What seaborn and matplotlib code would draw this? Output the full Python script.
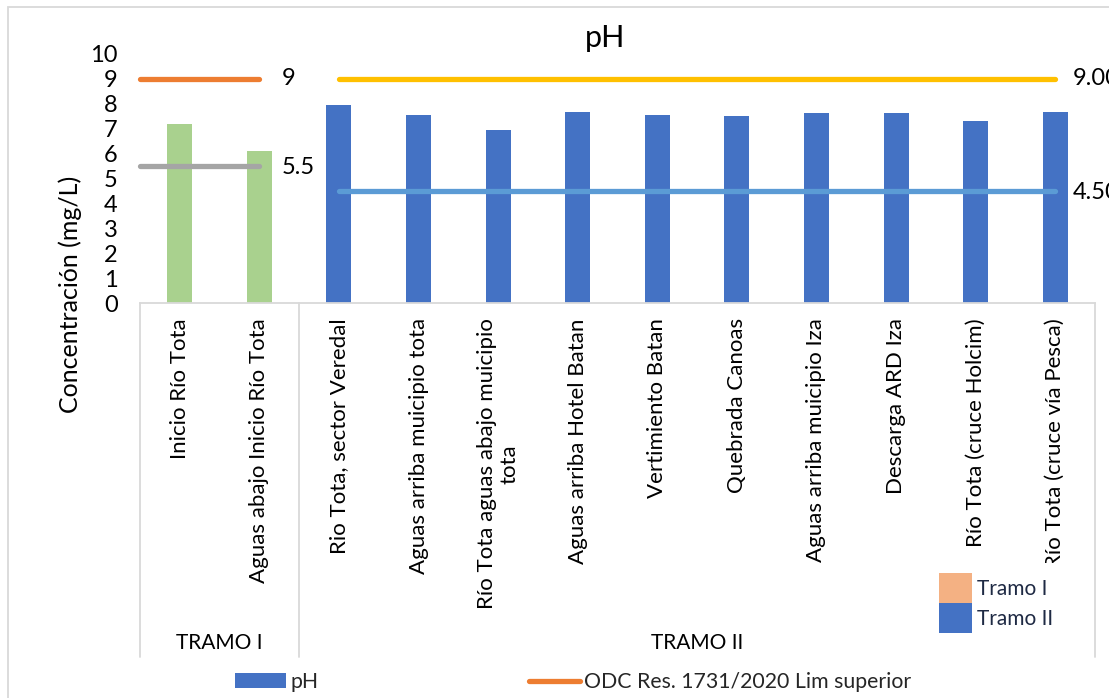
import textwrap

import matplotlib
matplotlib.use("Agg")
import matplotlib.pyplot as plt
import matplotlib.transforms as mtransforms
import pandas as pd
import seaborn as sns
from matplotlib.lines import Line2D
from matplotlib.patches import Patch, Rectangle

# ---- data -------------------------------------------------------------
sitios = [
    "Inicio Río Tota",
    "Aguas abajo Inicio Río Tota",
    "Rio Tota, sector Veredal",
    "Aguas arriba muicipio tota",
    "Río Tota aguas abajo muicipio tota",
    "Aguas arriba Hotel Batan",
    "Vertimiento Batan",
    "Quebrada Canoas",
    "Aguas arriba muicipio Iza",
    "Descarga ARD Iza",
    "Río Tota (cruce Holcim)",
    "Río Tota (cruce vía Pesca)",
]
tramos = ["TRAMO I"] * 2 + ["TRAMO II"] * 10
ph = [7.2, 6.1, 7.97, 7.56, 6.93, 7.66, 7.56, 7.51, 7.62, 7.62, 7.29, 7.69]

lim_sup_t1 = 9
lim_inf_t1 = 5.5
lim_sup_t2 = 9.00
lim_inf_t2 = 4.50

y_ticks = list(range(0, 11))

# ---- colours ----------------------------------------------------------
C_T1 = "#A9D18E"
C_T2 = "#4472C4"
C_ORANGE = "#ED7D31"
C_GRAY = "#A5A5A5"
C_YELLOW = "#FFC000"
C_LBLUE = "#5B9BD5"
C_PEACH = "#F4B183"
C_GRID = "#D9D9D9"

sns.set_theme(style="white")
plt.rcParams["font.family"] = ["Lato", "DejaVu Sans"]

W, H = 1109, 698
fig = plt.figure(figsize=(W / 100, H / 100), dpi=100)
fig.patch.set_facecolor("white")


def fx(px):
    return px / W


def fy(py):
    return 1 - py / H


FS_TICK = 17      # value axis + data labels
FS_CAT = 16       # category labels
FS_GROUP = 15     # TRAMO I / TRAMO II
FS_LEG = 15.3

ax = fig.add_axes([fx(140), fy(303), fx(1095) - fx(140), fy(54) - fy(303)])
ax.set_facecolor("white")

df = pd.DataFrame({"sitio": sitios, "pH": ph, "tramo": tramos})
sns.barplot(
    data=df, x="sitio", y="pH", hue="tramo",
    palette={"TRAMO I": C_T1, "TRAMO II": C_T2},
    dodge=False, width=0.315, saturation=1, legend=False,
    linewidth=0, ax=ax,
)

ax.set_xlim(-0.5, len(sitios) - 0.5)
ax.set_ylim(0, 10)
ax.set_yticks(y_ticks)
ax.set_yticklabels([str(t) for t in y_ticks])
ax.tick_params(axis="y", length=0, pad=16, labelsize=FS_TICK, labelcolor="black")
ax.tick_params(axis="x", length=0, pad=11, labelsize=FS_CAT, labelcolor="black")
ax.set_xticks(range(len(sitios)))
ax.set_xticklabels([textwrap.fill(s, 30) for s in sitios], rotation=90,
                   va="top", ha="center", multialignment="center")
ax.set_xlabel("")
ax.set_ylabel("")
for side in ["top", "right", "left"]:
    ax.spines[side].set_visible(False)
ax.spines["bottom"].set_color(C_GRID)
ax.spines["bottom"].set_linewidth(1.3)
ax.grid(False)

# limit lines for each section
t1_idx = [i for i, t in enumerate(tramos) if t == "TRAMO I"]
t2_idx = [i for i, t in enumerate(tramos) if t == "TRAMO II"]
x_t1 = [t1_idx[0] - 0.5, t1_idx[-1]]
x_t2 = [t2_idx[0], t2_idx[-1]]
line_kw = dict(lw=3.8, solid_capstyle="round", clip_on=False, zorder=3)
ax.plot(x_t1, [lim_sup_t1] * 2, color=C_ORANGE, **line_kw)
ax.plot(x_t1, [lim_inf_t1] * 2, color=C_GRAY, **line_kw)
ax.plot(x_t2, [lim_sup_t2] * 2, color=C_YELLOW, **line_kw)
ax.plot(x_t2, [lim_inf_t2] * 2, color=C_LBLUE, **line_kw)

lab_kw = dict(textcoords="offset points", va="center", ha="left",
              fontsize=FS_TICK, color="black", annotation_clip=False)
ax.annotate(f"{lim_sup_t1:g}", xy=(x_t1[1], lim_sup_t1), xytext=(16, 0), **lab_kw)
ax.annotate(f"{lim_inf_t1:g}", xy=(x_t1[1], lim_inf_t1), xytext=(16, -1), **lab_kw)
ax.annotate(f"{lim_sup_t2:.2f}", xy=(x_t2[1], lim_sup_t2), xytext=(12.5, 0), **lab_kw)
ax.annotate(f"{lim_inf_t2:.2f}", xy=(x_t2[1], lim_inf_t2), xytext=(12.5, -1), **lab_kw)

# category group boxes
trans = mtransforms.blended_transform_factory(ax.transData, fig.transFigure)
for xb in [t1_idx[0] - 0.5, t2_idx[0] - 0.5, t2_idx[-1] + 0.5]:
    fig.add_artist(Line2D([xb, xb], [fy(303), fy(657)], color=C_GRID,
                          lw=1.3, transform=trans))
for grp, idx in [("TRAMO I", t1_idx), ("TRAMO II", t2_idx)]:
    xc = (idx[0] + idx[-1]) / 2
    fig.text(xc, fy(643), grp, transform=trans, ha="center", va="center",
             fontsize=FS_GROUP, color="black")

# titles
fig.text(fx(605), fy(38), "pH", ha="center", va="center", fontsize=22,
         color="black")
fig.text(fx(70), fy(294), "Concentración (mg/L)", rotation=90, ha="center",
         va="center", fontsize=18, color="black")

# chart frame
fig.add_artist(Rectangle((fx(8), -0.2), 1.2, fy(7) + 0.2, fill=False,
                         edgecolor=C_GRID, lw=1.3, transform=fig.transFigure))

# section legend (white box sits over the long last category label)
fig.legend(
    handles=[Patch(facecolor=C_PEACH, edgecolor="none", label="Tramo I"),
             Patch(facecolor=C_T2, edgecolor="none", label="Tramo II")],
    loc="upper left", bbox_to_anchor=(fx(929), fy(563)),
    frameon=True, facecolor="white", edgecolor="none", framealpha=1,
    fancybox=False, borderpad=0.48, borderaxespad=0, handlelength=1.59,
    handleheight=1.84, labelspacing=0, handletextpad=0.24, fontsize=15,
    labelcolor="#1F2A44",
)

# series legend
fig.legend(
    handles=[Patch(facecolor=C_T2, edgecolor="none", label="pH"),
             Line2D([], [], color=C_ORANGE, lw=3.8, solid_capstyle="round",
                    label="ODC Res. 1731/2020 Lim superior")],
    ncol=2, loc="center left", bbox_to_anchor=(fx(235), fy(682)),
    frameon=False, borderpad=0, borderaxespad=0, handlelength=2.4,
    handletextpad=0.2, columnspacing=9.9, fontsize=FS_LEG,
)

fig.savefig("out.png", dpi=100, facecolor="white")
